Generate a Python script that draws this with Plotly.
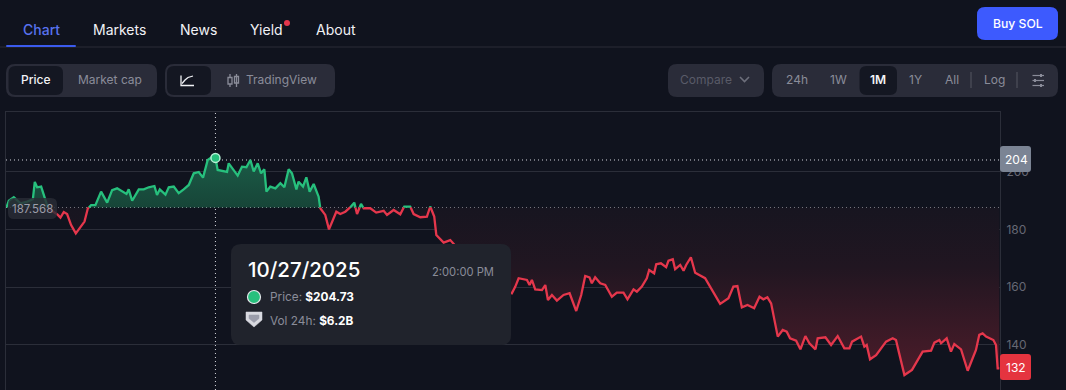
import plotly.graph_objects as go

# ---------- data ----------
hours = [0.7,2.4,6.0,10.9,15.7,19.8,21.2,22.9,25.8,28.2,30.1,32.6,36.2,37.9,39.8,42.2,44.6,47.5,50.9,54.3,57.2,59.6,62.0,65.1,69.2,73.6,77.2,80.8,84.4,87.6,89.2,91.7,96.5,100.1,103.7,107.8,109.7,111.7,115.8,118.2,121.8,125.4,129.0,132.7,136.3,139.9,143.0,146.4,148.8,152.0,153.6,160.4,161.6,165.2,168.1,171.2,174.4,177.3,179.7,182.6,185.0,187.4,
188.9,191.7,195.4,199.0,201.9,205.0,207.4,210.6,212.2,215.4,217.8,220.2,223.1,226.7,227.9,231.5,234.2,239.5,242.4,246.0,249.6,252.5,254.5,257.4,259.3,264.1,268.4,273.8,276.2,281.0,285.8,288.7,293.0,295.5,300.3,305.1,307.5,310.4,311.9,317.2,322.0,
330,340,350,360,366.6,369.1,371.5,377.5,379.4,381.1,383.5,388.4,390.8,392.7,395.6,399.2,404.0,408.4,413.2,416.8,419.7,422.8,424.5,426.9,430.6,434.2,439.0,442.6,447.4,450.3,454.7,457.1,460.7,464.3,466.0,469.6,471.1,474.5,478.3,480.0,483.1,484.8,488.5,490.9,492.8,496.2,499.3,506.5,515.0,517.4,523.4,527.0,529.9,533.1,537.2,542.0,545.9,548.7,551.6,554.3,
559.1,562.7,565.6,568.0,572.4,575.5,579.1,582.0,586.4,588.0,593.6,597.7,602.5,607.3,611.0,612.9,619.4,621.8,623.5,625.9,630.3,633.9,637.5,642.3,644.7,646.7,650.8,656.3,660.4,664.0,670.1,672.5,676.1,677.3,681.4,684.5,686.9,691.8,696.6,702.6,705.0,707.4,709.9,715.2,717.1,718.3,719.5]
prices = [187.63,189.9,191.1,189.0,189.6,190.4,196.4,194.55,194.8,191.1,188.4,186.7,185.55,185.0,184.05,186.0,185.3,181.5,178.6,180.9,182.7,187.2,188.4,188.4,193.05,189.25,193.6,194.2,193.05,192.25,193.85,189.9,193.85,193.85,194.55,195.0,191.9,193.85,192.0,194.55,194.8,192.5,193.85,195.35,199.4,199.85,197.9,204.0,204.8,204.73,200.55,199.85,202.85,200.55,198.6,201.7,201.5,204.0,200.0,202.85,199.4,200.8,
193.05,194.8,194.2,195.95,194.55,200.8,199.4,193.85,196.5,194.8,198.0,193.05,195.7,191.3,187.3,185.0,180.0,186.1,185.3,186.1,187.6,189.25,185.3,188.8,187.3,187.3,185.8,186.4,185.0,186.7,185.2,187.9,187.9,185.3,184.2,184.4,187.9,184.4,178.05,175.4,176.3,
172,168,164,159,157.9,160.2,163.1,162.5,160.75,162.5,159.25,159.0,160.75,155.55,157.3,155.35,157.3,157.9,151.75,157.3,163.9,163.4,161.35,163.4,161.35,160.75,156.7,158.1,158.1,155.8,159.25,158.45,160.2,163.1,165.95,164.8,167.9,168.25,166.9,169.2,169.65,166.2,167.7,165.7,167.7,170.35,165.0,163.1,156.15,154.2,156.15,160.2,160.4,153.0,153.85,152.7,156.7,155.8,156.5,154.4,
142.9,145.2,144.6,142.3,141.5,138.5,143.1,140.6,138.5,142.3,142.65,140.0,143.1,138.85,138.85,141.15,142.9,139.4,140.0,135.05,136.5,138.85,141.15,142.3,141.7,137.7,129.6,131.4,134.8,137.7,138.05,140.8,141.7,140.6,142.3,137.7,140.3,138.5,131.1,138.3,143.5,144.0,142.9,141.7,140.0,131.9,131.9]
baseline = 187.568
hover_hour = 152.0
hover_price = 204.73
high_level = 204
last_price = 132
y_ticks = [140, 160, 180, 200]
nav_labels = ["Chart", "Markets", "News", "Yield", "About"]
range_labels = ["24h", "1W", "1M", "1Y", "All", "Log"]

# ---------- constants ----------
W, H = 1066, 390
BG = "#10131e"
PANEL = "#2a2c39"
ACTIVE = "#141722"
MUTED = "#8a8c99"
GRID = "#2b2e39"
GREEN = "#27c07d"
RED = "#e5374c"
FONT = "Inter"

def px(x): return x / W
def py(y): return 1 - y / H

def rrect(x0, y0, x1, y1, r):
    X0, X1, Y0, Y1 = px(x0), px(x1), py(y0), py(y1)
    rx, ry = r / W, r / H
    return (f"M{X0+rx},{Y0} L{X1-rx},{Y0} Q{X1},{Y0} {X1},{Y0-ry} L{X1},{Y1+ry} Q{X1},{Y1} {X1-rx},{Y1} "
            f"L{X0+rx},{Y1} Q{X0},{Y1} {X0},{Y1+ry} L{X0},{Y0-ry} Q{X0},{Y0} {X0+rx},{Y0} Z")

def poly(points, close=False):
    s = "M" + " L".join(f"{px(a)},{py(b)}" for a, b in points)
    return s + (" Z" if close else "")

shapes, annotations = [], []

def box(x0, y0, x1, y1, r, fill, layer="above", opacity=1):
    shapes.append(dict(type="path", xref="paper", yref="paper", path=rrect(x0, y0, x1, y1, r),
                       fillcolor=fill, line_width=0, layer=layer, opacity=opacity))

def stroke(points, color, width=1.3, fill=None, close=False):
    shapes.append(dict(type="path", xref="paper", yref="paper", path=poly(points, close),
                       line=dict(color=color, width=width), fillcolor=fill, layer="above"))

def label(x, y, s, size, color, anchor="center", weight=400):
    annotations.append(dict(xref="paper", yref="paper", x=px(x), y=py(y), text=s, showarrow=False,
                            xanchor=anchor, yanchor="middle", xshift=0, borderpad=0,
                            font=dict(family=FONT, size=size, color=color, weight=weight)))

# ---------- split the series at the baseline ----------
xs, ys = [], []
for i, (h, p) in enumerate(zip(hours, prices)):
    if i and (prices[i-1] - baseline) * (p - baseline) < 0:
        t = (baseline - prices[i-1]) / (p - prices[i-1])
        xs.append(hours[i-1] + t * (h - hours[i-1]))
        ys.append(baseline)
    xs.append(h)
    ys.append(p)
up_fill = [max(v, baseline) for v in ys]
down_fill = [min(v, baseline) for v in ys]
up_line = [v if v >= baseline else None for v in ys]
down_line = [v if v <= baseline else None for v in ys]
base = [baseline] * len(xs)

fig = go.Figure()
fig.add_trace(go.Scatter(x=xs, y=base, mode="lines", line=dict(width=0), hoverinfo="skip"))
fig.add_trace(go.Scatter(x=xs, y=down_fill, mode="lines", line=dict(width=0), fill="tonexty", hoverinfo="skip",
                         fillgradient=dict(type="vertical", start=baseline, stop=128,
                                           colorscale=[[0, "#171520"], [0.35, "#211621"], [1, "#4e1c2a"]])))
fig.add_trace(go.Scatter(x=xs, y=base, mode="lines", line=dict(width=0), hoverinfo="skip"))
fig.add_trace(go.Scatter(x=xs, y=up_fill, mode="lines", line=dict(width=0), fill="tonexty", hoverinfo="skip",
                         fillgradient=dict(type="vertical", start=baseline, stop=205,
                                           colorscale=[[0, "#174538"], [1, "#1b5c47"]])))
fig.add_trace(go.Scatter(x=xs, y=up_line, mode="lines", line=dict(color=GREEN, width=2.3), connectgaps=False, hoverinfo="skip"))
fig.add_trace(go.Scatter(x=xs, y=down_line, mode="lines", line=dict(color=RED, width=2.3), connectgaps=False, hoverinfo="skip"))
fig.add_trace(go.Scatter(x=[hover_hour], y=[hover_price], mode="markers", hoverinfo="skip",
                         marker=dict(size=9, color=GREEN, line=dict(color="#b5f0d5", width=1.5))))

# dotted guides
for lvl in (high_level, baseline):
    shapes.append(dict(type="line", xref="paper", yref="y", x0=px(6), x1=px(1000), y0=lvl, y1=lvl,
                       line=dict(color="#d5d7de", width=1, dash="1px,3px"), layer="between"))
shapes.append(dict(type="line", xref="x", yref="paper", x0=hover_hour, x1=hover_hour, y0=0, y1=py(112),
                   line=dict(color="#d5d7de", width=1, dash="1px,3px"), layer="between"))

# ---------- page chrome ----------
nav_x = [41, 119, 198.5, 266.5, 336]
for i, (t, x) in enumerate(zip(nav_labels, nav_x)):
    label(x, 29.5, t, 14, "#5872ee" if i == 0 else "#f0f1f5", weight=500 if i == 0 else 400)
shapes.append(dict(type="line", xref="paper", yref="paper", x0=0, x1=1, y0=py(47), y1=py(47),
                   line=dict(color="#2a2d37", width=1), layer="above"))
box(6, 45, 76, 47, 1, "#3b5bee")
shapes.append(dict(type="circle", xref="paper", yref="paper", x0=px(284), x1=px(290), y0=py(26), y1=py(20),
                   fillcolor="#e5374c", line_width=0, layer="above"))
box(977, 7, 1058, 40, 8, "#3d5afe")
label(1017.5, 23.5, "Buy SOL", 12.2, "#ffffff", weight=500)

box(6, 64, 157, 97, 9, PANEL)
box(8.5, 66, 63, 95, 7, ACTIVE)
label(36, 80, "Price", 12, "#f2f3f6", weight=500)
label(109.5, 80, "Market cap", 12, MUTED, weight=400)

box(165, 64, 335, 97, 9, PANEL)
box(167, 66, 211, 95, 7, ACTIVE)
stroke([(181, 75.5), (181, 85.5), (194, 85.5)], "#f0f1f5")
stroke([(182, 83.5), (185, 80), (188, 77.5), (193, 76)], "#f0f1f5")
stroke([(230, 74), (230, 87)], MUTED)
box(228, 77.5, 232, 84, 1, PANEL)
stroke([(228, 77.5), (232, 77.5), (232, 84), (228, 84)], MUTED, close=True)
stroke([(236.5, 74), (236.5, 87)], MUTED)
stroke([(234.5, 76.5), (238.5, 76.5), (238.5, 83), (234.5, 83)], MUTED, close=True)
label(281, 80, "TradingView", 12, MUTED, weight=400)

box(668, 64, 764, 97, 9, PANEL)
label(706, 80, "Compare", 12, "#595b68", weight=400)
stroke([(740, 77), (744.5, 81.5), (749, 77)], "#6d6f7b", 1.6)

box(772, 64, 1058, 97, 9, PANEL)
box(859.5, 66, 897, 95, 7, ACTIVE)
for t, x in zip(range_labels, [796.5, 838.5, 878, 915, 952, 994]):
    label(x, 80, t, 12, "#f2f3f6" if t == "1M" else MUTED, weight=600 if t == "1M" else 400)
for x in (971, 1017):
    stroke([(x, 72), (x, 88)], "#555763", 1)
for yy, kx in ((75.5, 1041), (80.5, 1035), (85.5, 1041)):
    stroke([(1032.5, yy), (1044, yy)], MUTED, 1.2)
    stroke([(kx - 1, yy), (kx + 1, yy)], MUTED, 3)

# ---------- chart overlays ----------
box(8, 198, 57, 219, 6, "#2a2c36", opacity=0.82)
label(32.5, 209, f"{baseline:.3f}", 11.5, "#9c9eaa")

box(1000, 146, 1031, 172, 3, "#7b8494")
label(1016, 159.5, str(high_level), 12, "#ffffff", weight=400)
box(1000, 354, 1031, 380, 3, "#e5343f")
label(1016, 367.5, str(last_price), 12, "#ffffff", weight=400)

box(231, 244, 511, 345, 10, "#20232c")
label(247, 269, "10/27/2025", 20.5, "#ffffff", "left", 500)
label(495, 272, "2:00:00 PM", 11.2, MUTED, "right")
shapes.append(dict(type="circle", xref="paper", yref="paper", x0=px(247.5), x1=px(260.5), y0=py(303.5), y1=py(290.5),
                   fillcolor="#27c07d", line=dict(color="#e6e7ec", width=1.2), layer="above"))
label(269, 297, f'<span style="color:{MUTED}">Price: </span><b>${hover_price:.2f}</b>', 11.8, "#ffffff", "left")
stroke([(246, 312), (262, 312), (262, 320), (254, 327), (246, 320)], "#d8d9e0", 0.5, "#d8d9e0", True)
stroke([(249, 315), (259, 315), (259, 318.5), (254, 322.5), (249, 318.5)], "#9b9dab", 0.5, "#9b9dab", True)
label(269, 320.5, f'<span style="color:{MUTED}">Vol 24h: </span><b>$6.2B</b>', 11.8, "#ffffff", "left")

fig.update_layout(
    width=W, height=H, autosize=False,
    margin=dict(l=0, r=0, t=0, b=0, pad=0),
    paper_bgcolor=BG, plot_bgcolor=BG, showlegend=False,
    font=dict(family=FONT),
    xaxis=dict(domain=[px(5.5), px(1000)], range=[0, 720], showgrid=False, zeroline=False,
               showticklabels=False, ticks="", side="top", showline=True, linecolor=GRID, linewidth=1),
    yaxis=dict(domain=[0, py(112)], range=[124.43, 220.6], side="right", tickvals=y_ticks,
               showgrid=True, gridcolor=GRID, gridwidth=1, zeroline=False, showline=True, mirror=True,
               linecolor=GRID, linewidth=1, ticks="outside", ticklen=3, tickcolor="rgba(0,0,0,0)",
               tickfont=dict(family=FONT, size=12, color="#666874")),
    shapes=shapes, annotations=annotations,
)
fig.write_html("out.html", config=dict(displayModeBar=False),
               post_script="document.body.style.margin='0';document.body.style.overflow='hidden';document.body.style.background='#10131e';")
